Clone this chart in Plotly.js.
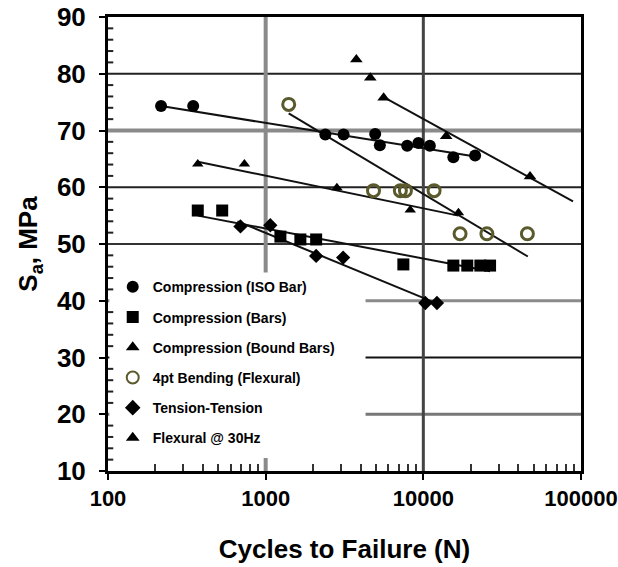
<!DOCTYPE html>
<html>
<head>
<meta charset="utf-8">
<script src="https://cdn.plot.ly/plotly-3.0.1.min.js"></script>
<style>
  html, body { margin: 0; padding: 0; background: #fff; }
  #chart { width: 618px; height: 567px; }
</style>
</head>
<body>
<div id="chart"></div>
<script>
// Fatigue data: cycles to failure (N) and stress amplitude Sa (MPa)
const isoN = [217, 347, 2390, 3120, 4950, 5300, 7900, 9300, 11000, 15500, 21300];
const isoS = [74.3, 74.3, 69.3, 69.3, 69.4, 67.4, 67.3, 67.8, 67.3, 65.3, 65.6];
const isoFitN = [217, 21300];
const isoFitS = [74.3, 65.4];

const barN = [371, 530, 1240, 1660, 2090, 7470, 15500, 19000, 23000, 26500];
const barS = [55.9, 55.9, 51.3, 50.8, 50.8, 46.4, 46.2, 46.2, 46.2, 46.2];
const barFitN = [371, 26500];
const barFitS = [55.0, 45.2];

const boundN = [371, 733, 2830, 8260, 16700];
const boundS = [64.1, 64.1, 59.9, 56.0, 55.5];
const boundFitN = [371, 16700];
const boundFitS = [64.5, 55.0];

const bendN = [1400, 4830, 7150, 7700, 11700, 17100, 25300, 45700];
const bendS = [74.6, 59.4, 59.4, 59.4, 59.4, 51.8, 51.8, 51.8];
const bendFitN = [1400, 46000];
const bendFitS = [73.0, 47.8];

const tenN = [692, 1070, 2090, 3100, 10300, 12200];
const tenS = [53.1, 53.3, 47.9, 47.6, 39.6, 39.6];
const tenFitN = [662, 12250];
const tenFitS = [54.0, 39.5];

const flexN = [3760, 4610, 5600, 13960, 47500];
const flexS = [82.5, 79.3, 75.75, 69.0, 61.9];
const flexFitN = [5600, 89000];
const flexFitS = [75.9, 57.5];

const seriesNames = [
  'Compression (ISO Bar)',
  'Compression (Bars)',
  'Compression (Bound Bars)',
  '4pt Bending (Flexural)',
  'Tension-Tension',
  'Flexural @ 30Hz'
];

const xTicks = [100, 1000, 10000, 100000];
const xTickText = ['100', '1000', '10000', '100000'];

// gridlines and their pen styles
const gridY = [20, 30, 40, 50, 60, 70, 80];
const gridYColor = ['#777', '#111', '#8a8a8a', '#333', '#222', '#8a8a8a', '#222'];
const gridYWidth = [3, 2, 3, 2, 2, 4, 2];
const gridX = [1000, 10000];
const gridXColor = ['#8a8a8a', '#444'];
const gridXWidth = [4, 3];

// minor tick positions: 2..9 within each decade on x, every 2 MPa on y
const xMinor = [];
for (const d of [100, 1000, 10000]) for (let k = 2; k <= 9; k++) xMinor.push(k * d);
const yMinor = [];
for (let v = 12; v < 90; v += 2) if (v % 10 !== 0) yMinor.push(v);

const FONT = 'Arial, "Liberation Sans", sans-serif';
const olive = '#5b5a2c';

function pts(x, y, name, marker, grp) {
  return { x, y, name, type: 'scatter', mode: 'markers', marker,
           legendgroup: grp, showlegend: true, cliponaxis: false };
}
function fit(x, y) {
  return { x, y, type: 'scatter', mode: 'lines', showlegend: false,
           hoverinfo: 'skip', line: { color: '#111', width: 2 } };
}

const traces = [
  fit(isoFitN, isoFitS),
  fit(barFitN, barFitS),
  fit(boundFitN, boundFitS),
  fit(bendFitN, bendFitS),
  fit(tenFitN, tenFitS),
  fit(flexFitN, flexFitS),
  pts(isoN, isoS, seriesNames[0], { symbol: 'circle', size: 12, color: '#000' }, 'g1'),
  pts(barN, barS, seriesNames[1], { symbol: 'square', size: 12, color: '#000' }, 'g2'),
  pts(boundN, boundS, seriesNames[2], { symbol: 'triangle-up', size: 10, color: '#000' }, 'g3'),
  pts(bendN, bendS, seriesNames[3], { symbol: 'circle-open', size: 12, color: olive, line: { width: 3, color: olive } }, 'g4'),
  pts(tenN, tenS, seriesNames[4], { symbol: 'diamond', size: 11, color: '#000' }, 'g5'),
  pts(flexN, flexS, seriesNames[5], { symbol: 'triangle-up', size: 11, color: '#000' }, 'g6')
];

// gridlines drawn as shapes under the traces, then a white block behind the legend
const frameShapes = [];
gridY.forEach((v, i) => frameShapes.push({
  type: 'line', xref: 'x', yref: 'y', x0: 100, x1: 100000, y0: v, y1: v,
  line: { color: gridYColor[i], width: gridYWidth[i] }, layer: 'below' }));
gridX.forEach((v, i) => frameShapes.push({
  type: 'line', xref: 'x', yref: 'y', x0: v, x1: v, y0: 10, y1: 90,
  line: { color: gridXColor[i], width: gridXWidth[i] }, layer: 'below' }));
frameShapes.push({ type: 'rect', xref: 'x', yref: 'y', x0: 102, x1: 4300, y0: 12.3, y1: 45,
  fillcolor: '#fff', line: { width: 0 }, layer: 'below' });
// small inside ticks along the stress axis
yMinor.forEach(v => frameShapes.push({
  type: 'line', xref: 'x', yref: 'y', x0: 100, x1: 108, y0: v, y1: v,
  line: { color: '#222', width: 2 }, layer: 'above' }));

const layout = {
  width: 618, height: 567,
  margin: { l: 108, r: 37, t: 17, b: 96 },
  paper_bgcolor: '#fff', plot_bgcolor: '#fff',
  font: { family: FONT, color: '#000' },
  showlegend: true,
  legend: {
    x: 0.01, y: 0.44, xanchor: 'left', yanchor: 'top',
    bgcolor: 'rgba(0,0,0,0)', borderwidth: 0,
    font: { family: FONT, size: 14, color: '#000', weight: 'bold' },
    traceorder: 'grouped', tracegroupgap: 9,
    itemsizing: 'constant', itemwidth: 30
  },
  shapes: frameShapes,
  xaxis: {
    type: 'log', range: [2, 5],
    tickmode: 'array', tickvals: xTicks, ticktext: xTickText,
    tickfont: { family: FONT, size: 22, weight: 'bold' },
    ticks: 'outside', ticklen: 6, tickwidth: 2, tickcolor: '#000',
    minor: { tickmode: 'array', tickvals: xMinor, ticks: 'inside', ticklen: 7, tickwidth: 2, tickcolor: '#333', showgrid: false },
    showgrid: false,
    showline: true, linecolor: '#000', linewidth: 3, mirror: true,
    zeroline: false,
    title: { text: 'Cycles to Failure (N)', font: { family: FONT, size: 26, weight: 'bold' }, standoff: 30 }
  },
  yaxis: {
    range: [10, 90], tickmode: 'linear', tick0: 10, dtick: 10,
    tickfont: { family: FONT, size: 26, weight: 'bold' },
    ticks: 'outside', ticklen: 6, tickwidth: 2, tickcolor: '#000',
    ticklabelstandoff: 8,
    showgrid: false,
    showline: true, linecolor: '#000', linewidth: 3, mirror: true,
    zeroline: false,
    title: { text: 'S<sub>a</sub>, MPa', font: { family: FONT, size: 26, weight: 'bold' }, standoff: 12 }
  }
};

Plotly.newPlot('chart', traces, layout, { displayModeBar: false, staticPlot: true });
</script>
</body>
</html>
